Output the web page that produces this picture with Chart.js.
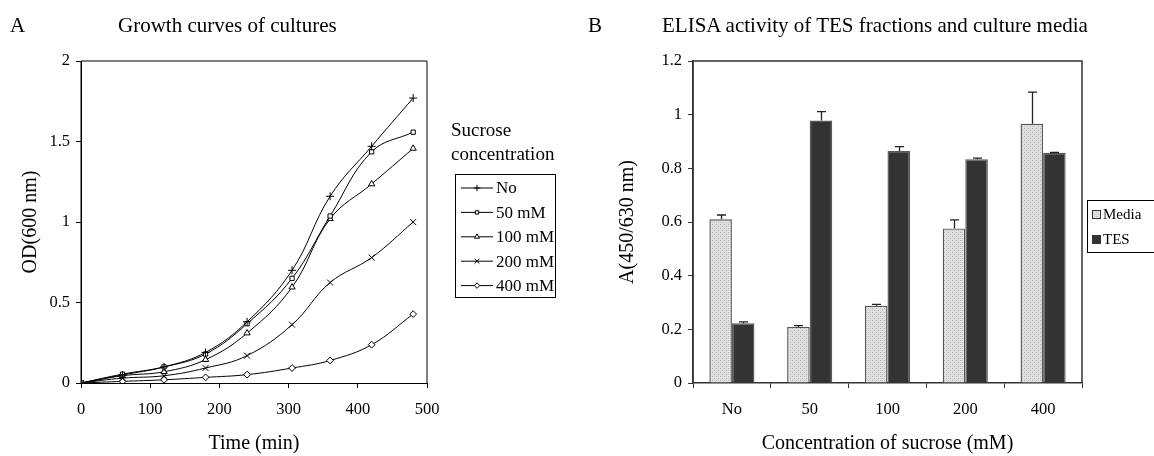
<!DOCTYPE html>
<html>
<head>
<meta charset="utf-8">
<script src="https://cdn.jsdelivr.net/npm/chart.js@4.4.0/dist/chart.umd.min.js"></script>
<style>
  html, body { margin: 0; padding: 0; background: #fff; }
  #wrap { position: relative; width: 1154px; height: 456px; overflow: hidden;
          font-family: "Liberation Serif", "Times New Roman", serif; color: #000; }
  .ttl { position: absolute; font-size: 21px; line-height: 24px; white-space: nowrap; }
  #growth { position: absolute; left: 0; top: 0; }
  #elisa { position: absolute; left: 580px; top: 0; }
</style>
</head>
<body>
<div id="wrap">
  <canvas id="growth" width="580" height="456"></canvas>
  <canvas id="elisa" width="574" height="456"></canvas>
  <div class="ttl" style="left:10px; top:13px;">A</div>
  <div class="ttl" style="left:118px; top:13px;">Growth curves of cultures</div>
  <div class="ttl" style="left:588px; top:13px;">B</div>
  <div class="ttl" style="left:662px; top:13px;">ELISA activity of TES fractions and culture media</div>
</div>
<script>
// ---- Panel A: growth curves (OD 600 nm vs time) ----
const timeMin = [0, 60, 120, 180, 240, 305, 360, 420, 480];
const odNo    = [0.00, 0.050, 0.100, 0.190, 0.380, 0.700, 1.160, 1.470, 1.770];
const od50    = [0.00, 0.055, 0.100, 0.180, 0.368, 0.650, 1.037, 1.436, 1.558];
const od100   = [0.00, 0.045, 0.070, 0.145, 0.310, 0.595, 1.020, 1.236, 1.457];
const od200   = [0.00, 0.030, 0.045, 0.093, 0.170, 0.362, 0.624, 0.779, 1.000];
const od400   = [0.00, 0.010, 0.020, 0.035, 0.052, 0.093, 0.140, 0.238, 0.428];
const growthLabels = ['No', '50 mM', '100 mM', '200 mM', '400 mM'];
const growthTicksX = [0, 100, 200, 300, 400, 500];
const growthTicksY = [0, 0.5, 1, 1.5, 2];

// ---- Panel B: ELISA absorbance by sucrose concentration ----
const sucroseCats = ['No', '50', '100', '200', '400'];
const mediaVals = [0.610, 0.209, 0.288, 0.576, 0.966];
const mediaErr  = [0.016, 0.005, 0.005, 0.032, 0.118];
const tesVals   = [0.223, 0.978, 0.865, 0.834, 0.858];
const tesErr    = [0.005, 0.033, 0.016, 0.004, 0.001];
const elisaTicksY = [0, 0.2, 0.4, 0.6, 0.8, 1, 1.2];

const SERIF = '"Liberation Serif", "Times New Roman", serif';
Chart.defaults.font.family = SERIF;
Chart.defaults.color = '#000';
Chart.defaults.animation = false;
Chart.defaults.devicePixelRatio = 1;
Chart.defaults.plugins.legend.display = false;
Chart.defaults.plugins.tooltip.enabled = false;

// plain number labels: 0, 0.5, 1, 1.5 ...
const plainNum = (v) => String(Math.round(v * 100) / 100);

// frame around the plotting area
const frameBox = {
  id: 'frameBox',
  afterDraw(chart, args, opts) {
    const a = chart.chartArea, ctx = chart.ctx;
    ctx.save();
    ctx.strokeStyle = opts.color || '#000';
    ctx.lineWidth = opts.width || 1;
    ctx.beginPath();
    ctx.moveTo(a.left, a.bottom);
    ctx.lineTo(a.left, a.top);
    ctx.lineTo(a.right, a.top);
    ctx.lineTo(a.right, a.bottom);
    ctx.stroke();
    ctx.restore();
  }
};

const markerStyles = ['cross', 'rect', 'triangle', 'crossRot', 'rectRot'];
const markerRadius = [4, 3, 3.6, 4.2, 3.4];
const growthSeries = [odNo, od50, od100, od200, od400];

const growthData = {
  datasets: growthSeries.map((vals, i) => ({
    label: growthLabels[i],
    data: timeMin.map((t, k) => ({ x: t, y: vals[k] })),
    borderColor: '#000',
    borderWidth: 1,
    tension: 0.4,
    pointStyle: markerStyles[i],
    pointRadius: markerRadius[i],
    pointBorderColor: '#000',
    pointBackgroundColor: '#fff',
    pointBorderWidth: 1
  }))
};

// legend with line + marker samples and a two-line heading
const growthLegend = {
  id: 'growthLegend',
  afterDraw(chart) {
    const ctx = chart.ctx;
    ctx.save();
    ctx.fillStyle = '#000';
    ctx.textBaseline = 'middle';
    ctx.font = '19px ' + SERIF;
    ctx.fillText('Sucrose', 451, 131);
    ctx.fillText('concentration', 451, 155);
    ctx.strokeStyle = '#000';
    ctx.lineWidth = 1;
    ctx.strokeRect(455.5, 174.5, 100, 123);
    ctx.font = '17px ' + SERIF;
    chart.data.datasets.forEach((ds, i) => {
      const y = 188 + i * 24.4;
      ctx.strokeStyle = '#000';
      ctx.lineWidth = 1;
      ctx.beginPath();
      ctx.moveTo(461, y);
      ctx.lineTo(493, y);
      ctx.stroke();
      ctx.fillStyle = '#fff';
      Chart.helpers.drawPoint(ctx, { pointStyle: ds.pointStyle, radius: ds.pointRadius * 0.8, borderWidth: 1 }, 477, y);
      ctx.fillStyle = '#000';
      ctx.fillText(ds.label, 496, y + 1);
    });
    ctx.restore();
  }
};

new Chart(document.getElementById('growth'), {
  type: 'line',
  data: growthData,
  options: {
    responsive: false,
    layout: { padding: { left: 0, right: 153, top: 61, bottom: 0 } },
    plugins: { frameBox: { color: '#000', width: 1 } },
    scales: {
      x: {
        type: 'linear',
        min: growthTicksX[0], max: growthTicksX[growthTicksX.length - 1],
        afterBuildTicks: (s) => { s.ticks = growthTicksX.map(v => ({ value: v })); },
        afterFit: (s) => { s.height = 73; },
        grid: { display: true, drawOnChartArea: false, drawTicks: true, tickLength: 5, color: '#000' },
        border: { display: true, color: '#000', width: 1 },
        ticks: { font: { size: 16.5 }, padding: 12, color: '#000', callback: plainNum },
        title: { display: true, text: 'Time (min)', font: { size: 20 }, padding: { top: 0, bottom: 0 }, color: '#000' }
      },
      y: {
        type: 'linear',
        min: 0, max: 2,
        afterBuildTicks: (s) => { s.ticks = growthTicksY.map(v => ({ value: v })); },
        afterFit: (s) => { s.width = 81; },
        grid: { display: true, drawOnChartArea: false, drawTicks: true, tickLength: 5, color: '#000' },
        border: { display: true, color: '#000', width: 1 },
        ticks: { font: { size: 16.5 }, padding: 6, color: '#000', callback: plainNum },
        title: { display: true, text: 'OD(600 nm)', font: { size: 20 }, padding: { top: 19, bottom: 0 }, color: '#000' }
      }
    }
  },
  plugins: [frameBox, growthLegend]
});

// ---- Panel B ----
function stipple() {
  const c = document.createElement('canvas');
  c.width = 4; c.height = 4;
  const g = c.getContext('2d');
  g.fillStyle = '#e2e2e2';
  g.fillRect(0, 0, 4, 4);
  g.fillStyle = '#b4b4b4';
  g.fillRect(0, 0, 1, 1);
  g.fillRect(2, 2, 1, 1);
  g.fillStyle = '#cbcbcb';
  g.fillRect(2, 0, 1, 1);
  g.fillRect(0, 2, 1, 1);
  return g.createPattern(c, 'repeat');
}
const mediaFill = stipple();

// upward error bars with caps, placed with the chart's own scales
const errorBars = {
  id: 'errorBars',
  afterDatasetsDraw(chart) {
    const ctx = chart.ctx, yScale = chart.scales.y;
    ctx.save();
    ctx.strokeStyle = '#222';
    ctx.lineWidth = 1.3;
    chart.data.datasets.forEach((ds, di) => {
      const meta = chart.getDatasetMeta(di);
      meta.data.forEach((bar, i) => {
        const top = yScale.getPixelForValue(ds.data[i] + ds.errors[i]);
        const x = Math.round(bar.x) + 0.5;
        ctx.beginPath();
        ctx.moveTo(x, bar.y);
        ctx.lineTo(x, top);
        ctx.moveTo(x - 4.5, top);
        ctx.lineTo(x + 4.5, top);
        ctx.stroke();
      });
    });
    ctx.restore();
  }
};

const elisaLegend = {
  id: 'elisaLegend',
  afterDraw(chart) {
    const ctx = chart.ctx;
    const ox = -580; // canvas sits 580px from the page's left edge
    ctx.save();
    ctx.strokeStyle = '#000';
    ctx.lineWidth = 1;
    ctx.strokeRect(1087.5 + ox, 200.5, 120, 52);
    ctx.font = '15px ' + SERIF;
    ctx.textBaseline = 'middle';
    chart.data.datasets.forEach((ds, i) => {
      const y = 214 + i * 25;
      ctx.fillStyle = ds.backgroundColor;
      ctx.fillRect(1092 + ox, y - 4, 8, 8);
      ctx.strokeStyle = '#333';
      ctx.strokeRect(1092.5 + ox, y - 3.5, 8, 8);
      ctx.fillStyle = '#000';
      ctx.fillText(ds.label, 1103 + ox, y + 1);
    });
    ctx.restore();
  }
};

new Chart(document.getElementById('elisa'), {
  type: 'bar',
  data: {
    labels: sucroseCats,
    datasets: [
      { label: 'Media', data: mediaVals, errors: mediaErr, backgroundColor: mediaFill,
        borderColor: '#555', borderWidth: 1.4, categoryPercentage: 0.58, barPercentage: 1.0 },
      { label: 'TES', data: tesVals, errors: tesErr, backgroundColor: '#333333',
        borderColor: '#5a5a5a', borderWidth: 1.4, categoryPercentage: 0.58, barPercentage: 1.0 }
    ]
  },
  options: {
    responsive: false,
    layout: { padding: { left: 0, right: 72, top: 61, bottom: 0 } },
    plugins: { frameBox: { color: '#333', width: 1.5 } },
    scales: {
      x: {
        afterFit: (s) => { s.height = 73; },
        grid: { display: true, offset: true, drawOnChartArea: false, drawTicks: true, tickLength: 5, color: '#333' },
        border: { display: true, color: '#333', width: 1.5 },
        ticks: { font: { size: 16.5 }, padding: 12, color: '#000' },
        title: { display: true, text: 'Concentration of sucrose (mM)', font: { size: 20 }, padding: { top: 0, bottom: 0 }, color: '#000' }
      },
      y: {
        min: 0, max: 1.2,
        afterBuildTicks: (s) => { s.ticks = elisaTicksY.map(v => ({ value: v })); },
        afterFit: (s) => { s.width = 113; },
        grid: { display: true, drawOnChartArea: false, drawTicks: true, tickLength: 5, color: '#333' },
        border: { display: true, color: '#333', width: 1.5 },
        ticks: { font: { size: 16.5 }, padding: 6, color: '#000', callback: plainNum },
        title: { display: true, text: 'A(450/630 nm)', font: { size: 20 }, padding: { top: 36, bottom: 0 }, color: '#000' }
      }
    }
  },
  plugins: [errorBars, frameBox, elisaLegend]
});
</script>
</body>
</html>
